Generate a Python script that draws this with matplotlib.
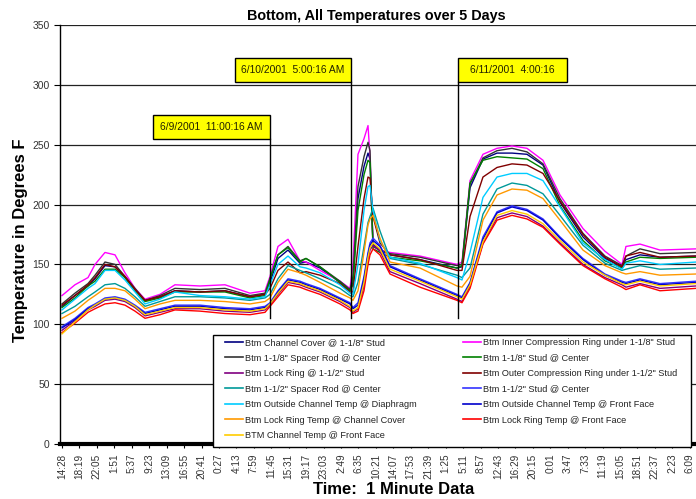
import matplotlib
matplotlib.use('Agg')
import matplotlib.pyplot as plt
from matplotlib.patches import Rectangle
from matplotlib.lines import Line2D

plt.rcParams['font.family'] = ['Liberation Sans', 'DejaVu Sans']

# ---------------- data ----------------
# sample index (minutes of 1-minute data) at which values were read
minute_idx = [0, 168, 337, 428, 557, 687, 816, 946, 1076, 1270, 1464, 1788, 2112, 2436,
              2631, 2696, 2799, 2929, 3084, 3162, 3344, 3603, 3732, 3771, 3836, 3914,
              3966, 3992, 4031, 4121, 4251, 4640, 5119, 5184, 5288, 5456, 5638, 5832,
              6026, 6234, 6454, 6752, 7037, 7258, 7309, 7491, 7750, 8217]

channel_cover_118 = [115,124,132,138,149,148,139,129,120,123,128,127,128,123,125,135,155,162,151,152,
                     147,135,128,135,205,232,243,238,167,162,158,154,147,148,214,238,243,243,242,233,
                     202,173,155,148,154,158,156,157]
inner_comp_118 = [124,133,139,150,160,158,143,130,121,125,133,132,133,126,128,140,165,171,153,152,
                  145,136,130,150,242,255,266,240,165,162,160,157,150,152,220,242,247,249,247,237,
                  208,180,161,150,165,167,162,163]
spacer_118 = [117,126,134,141,152,150,140,130,120,124,130,129,130,124,126,138,158,165,153,155,
              148,136,129,140,215,240,252,245,165,162,159,156,149,150,217,239,245,247,244,234,
              205,176,157,149,157,163,159,160]
stud_118 = [114,122,132,136,146,146,139,128,119,122,127,127,127,122,124,138,158,164,152,155,
            148,135,128,133,195,225,237,235,163,160,156,153,147,149,218,237,240,239,238,230,
            199,170,153,147,152,156,155,156]
lock_ring_112 = [95,103,112,115,120,121,119,114,107,110,113,113,111,110,112,116,125,135,133,131,
                 127,119,114,110,113,132,154,162,166,161,144,134,121,119,132,168,189,193,190,182,
                 168,150,139,133,131,134,130,132]
outer_comp_112 = [116,124,133,139,150,148,140,129,120,123,128,127,128,123,125,130,145,152,143,144,
                  141,134,127,127,165,205,223,222,190,168,158,154,145,145,190,223,231,234,233,226,
                  203,175,156,148,157,160,156,157]
spacer_112 = [109,115,123,127,133,134,130,123,115,119,123,123,122,120,122,125,138,149,145,143,
              138,130,124,123,135,165,185,190,197,178,155,150,141,139,147,192,213,218,216,209,
              191,166,151,145,146,149,146,147]
stud_112 = [98,105,114,117,122,123,121,116,110,113,116,116,114,113,115,118,128,138,136,134,
            130,122,118,114,118,140,160,168,172,166,149,138,125,123,135,173,194,199,196,188,
            173,155,142,136,135,138,134,136]
outside_diaphragm = [112,121,130,134,145,145,137,127,117,121,127,124,123,121,123,133,150,157,148,147,
                     143,133,126,125,150,195,215,216,195,170,156,151,139,137,160,206,223,226,226,220,
                     198,168,154,146,151,153,150,152]
outside_front = [97,104,113,116,121,122,120,115,109,112,115,115,113,112,114,117,127,137,135,133,
                 129,121,117,113,116,138,158,166,170,165,148,137,124,122,134,171,193,198,195,187,
                 172,154,141,135,134,137,133,135]
lockring_cover = [105,111,120,124,130,130,128,121,113,117,120,120,119,117,119,122,135,146,143,141,
                  135,126,122,120,128,160,183,188,191,172,152,147,132,131,140,187,208,213,212,205,
                  187,162,149,143,142,144,141,142]
lockring_front = [93,101,110,113,117,118,116,111,105,108,112,111,109,108,110,115,123,133,131,129,
                  125,117,112,109,111,128,150,158,163,158,142,131,120,118,130,167,187,191,188,181,
                  167,149,138,131,129,133,128,130]
channel_front = [92,102,112,116,121,122,120,115,108,111,114,114,112,111,113,117,126,136,134,132,
                 128,120,115,111,114,135,156,164,168,163,146,136,123,121,133,169,191,195,192,184,
                 170,152,141,134,133,136,132,134]

series_names = ['Btm Channel Cover @ 1-1/8" Stud',
                'Btm Inner Compression Ring under 1-1/8" Stud',
                'Btm 1-1/8" Spacer Rod @ Center',
                'Btm 1-1/8" Stud @ Center',
                'Btm Lock Ring @ 1-1/2" Stud',
                'Btm Outer Compression Ring under 1-1/2" Stud',
                'Btm 1-1/2" Spacer Rod @ Center',
                'Btm 1-1/2" Stud @ Center',
                'Btm Outside Channel Temp @ Diaphragm',
                'Btm Outside Channel Temp @ Front Face',
                'Btm Lock Ring Temp @ Channel Cover',
                'Btm Lock Ring Temp @ Front Face',
                'BTM Channel Temp @ Front Face']
series_values = [channel_cover_118, inner_comp_118, spacer_118, stud_118, lock_ring_112,
                 outer_comp_112, spacer_112, stud_112, outside_diaphragm, outside_front,
                 lockring_cover, lockring_front, channel_front]
series_colors = ['#000080', '#FF00FF', '#333333', '#008000', '#800080', '#800000', '#009999',
                 '#3333FF', '#00CCFF', '#0000CC', '#FF9900', '#FF0000', '#FFCC00']

tick_labels = ['14:28','18:19','22:05','1:51','5:37','9:23','13:09','16:55','20:41','0:27',
               '4:13','7:59','11:45','15:31','19:17','23:03','2:49','6:35','10:21','14:07',
               '17:53','21:39','1:25','5:11','8:57','12:43','16:29','20:15','0:01','3:47',
               '7:33','11:19','15:05','18:51','22:37','2:23','6:09']
tick_step = 226

event_idx = [2696, 3745, 5132]
event_labels = ['6/9/2001  11:00:16 AM', '6/10/2001  5:00:16 AM', '6/11/2001  4:00:16']

# ---------------- figure ----------------
W, H = 696, 499
fig = plt.figure(figsize=(W/100, H/100), dpi=100)
ax = fig.add_axes([60/W, 1-444/H, 636/W, 419/H])

for name, vals, col in zip(series_names, series_values, series_colors):
    ax.plot(minute_idx, vals, color=col, lw=1.0, label=name)

ax.set_xlim(-26, 8217)
ax.set_ylim(0, 350)
ax.set_yticks(range(0, 351, 50))
ax.set_xticks([k*tick_step for k in range(len(tick_labels))])
ax.set_xticklabels(tick_labels, rotation=90)
ax.grid(axis='y', color='#222222', lw=0.9)
ax.set_axisbelow(True)
for s in ['top', 'right']:
    ax.spines[s].set_visible(False)
ax.spines['left'].set_linewidth(1.0)
ax.spines['bottom'].set_linewidth(3.0)
ax.tick_params(axis='y', labelsize=7.5, labelcolor='#333333', length=4, width=0.8)
ax.tick_params(axis='x', labelsize=7.2, labelcolor='#333333', length=3, width=0.8, pad=4)

# event markers
mpp = 12.96   # minutes per pixel
box_specs = [  # (anchor side, box width px, box top value)
    ('right', 117, 274.5),
    ('right', 116, 322.5),
    ('left', 109, 322.5),
]
box_h = 20.0
for ev, lab, (side, wpx, top) in zip(event_idx, event_labels, box_specs):
    bottom = top - box_h
    ax.plot([ev, ev], [105, bottom], color='black', lw=1.0, zorder=3)
    wd = wpx*mpp
    x0 = ev - wd if side == 'right' else ev
    ax.add_patch(Rectangle((x0, bottom), wd, box_h, facecolor='#FFFF00', edgecolor='black',
                           lw=1.0, zorder=4))
    ax.text(x0 + wd/2, bottom + box_h/2, lab, ha='center', va='center', fontsize=7.4,
            color='#222200', zorder=5)

# titles
fig.text(376/W, 1-16/H, 'Bottom, All Temperatures over 5 Days', ha='center', va='center',
         fontsize=10.4, fontweight='bold')
fig.text(21/W, 1-240/H, 'Temperature in Degrees F', ha='center', va='center', rotation=90,
         fontsize=12, fontweight='bold')
fig.text(394/W, 1-490/H, 'Time:  1 Minute Data', ha='center', va='center',
         fontsize=12, fontweight='bold')

# legend: frame + two columns
frame = Rectangle((213/W, 1-447/H), 478/W, 112/H, transform=fig.transFigure,
                  facecolor='white', edgecolor='black', lw=1.0, zorder=4.8)
fig.add_artist(frame)
col1 = [0, 2, 4, 6, 8, 10, 12]
col2 = [1, 3, 5, 7, 9, 11]
for idxs, xl in ((col1, 225), (col2, 463)):
    hs = [Line2D([0], [0], color=series_colors[i], lw=1.2) for i in idxs]
    ls = [series_names[i] for i in idxs]
    lg = fig.legend(hs, ls, loc='upper left', bbox_to_anchor=(xl/W, 1-338/H),
                    fontsize=6.6, frameon=False, borderaxespad=0, borderpad=0,
                    handlelength=2.0, handletextpad=0.2, labelspacing=0.71)
    lg.set_zorder(5)
    for t in lg.get_texts():
        t.set_color('#222222')

fig.savefig('out.png', dpi=100)
